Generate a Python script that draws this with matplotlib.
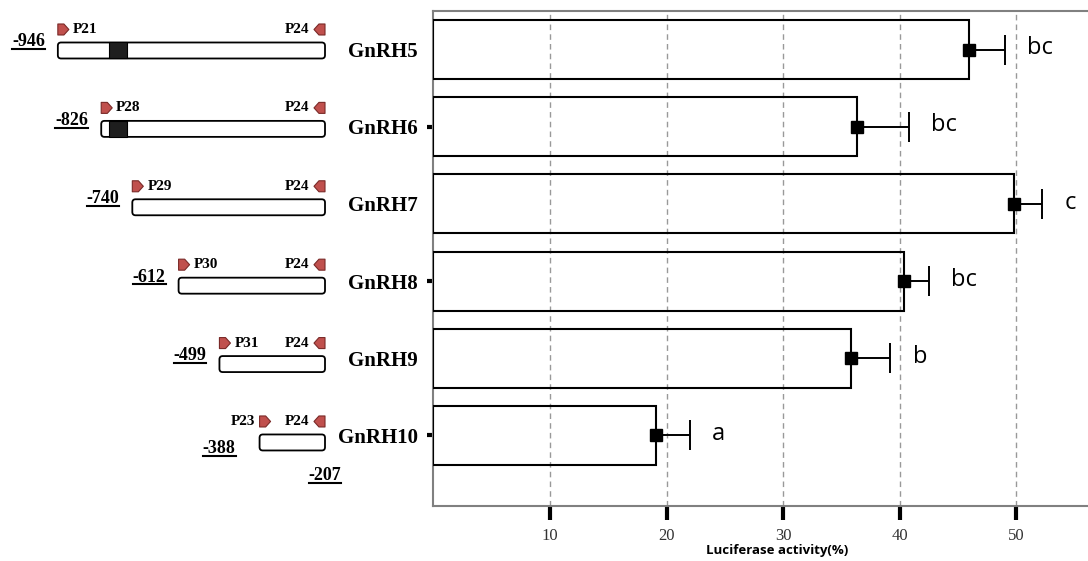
import numpy as np
import matplotlib
matplotlib.use("Agg")
import matplotlib.pyplot as plt
from matplotlib.patches import FancyBboxPatch, Polygon, Rectangle
from matplotlib.lines import Line2D

# promoter deletion constructs and their luciferase activity
constructs = ["GnRH5", "GnRH6", "GnRH7", "GnRH8", "GnRH9", "GnRH10"]
activity = [45.9, 36.35, 49.8, 40.35, 35.8, 19.1]
activity_sd = [3.1, 4.45, 2.4, 2.15, 3.4, 2.9]
groups = ["bc", "bc", "c", "bc", "b", "a"]
xticks = [10, 20, 30, 40, 50]

# 5' deletion map (positions in bp relative to the start site)
starts = [-946, -826, -740, -612, -499, -388]
end_pos = -207
fwd_primers = ["P21", "P28", "P29", "P30", "P31", "P23"]
rev_primer = "P24"
element = (-804, -755)

W, H = 1088, 561
fig = plt.figure(figsize=(W / 100, H / 100), dpi=100)

SERIF = "Liberation Serif"
SANS = "Open Sans"

# ── bar panel ────────────────────────────────────────────────────────────────
ax = fig.add_axes([433.4 / W, (H - 505.7) / H, (1121.3 - 433.4) / W, (505.7 - 11) / H])
y = np.arange(len(constructs))
vals = np.array(activity)
errs = np.array(activity_sd)

ax.barh(y, vals, height=0.765, color="none", edgecolor="black", lw=1.5, zorder=3)
ax.hlines(y, vals, vals + errs, color="black", lw=1.4, zorder=4)
ax.plot(vals + errs, y, ls="none", marker="|", ms=21, mew=1.4, color="black", zorder=4)
ax.plot(vals, y, ls="none", marker="s", ms=8.5, color="black", zorder=5)
for v, e, yi, g in zip(vals, errs, y, groups):
    ax.annotate(g, (v + e, yi), xytext=(16, 1), textcoords="offset points",
                ha="left", va="center", fontsize=17, family=SANS)

ax.set_xlim(0, 59)
ax.set_ylim(5.91, -0.5)
ax.xaxis.grid(True, ls=(0, (4, 3)), color="#999999", lw=1, zorder=1)
ax.set_xticks(xticks)
ax.tick_params(axis="x", length=10, width=3, color="black", pad=6,
               labelsize=12, labelcolor="#333333")
for lab in ax.get_xticklabels():
    lab.set_fontfamily(SERIF)
ax.set_yticks(y)
ax.set_yticklabels(constructs, fontfamily=SERIF, fontweight="bold", fontsize=15)
ax.tick_params(axis="y", length=4, width=3, color="black", pad=7)
for i, t in enumerate(ax.yaxis.get_major_ticks()):
    if i % 2 == 0:
        t.tick1line.set_visible(False)
ax.spines["right"].set_visible(False)
for s in ("top", "left", "bottom"):
    ax.spines[s].set_color("#808080")
    ax.spines[s].set_linewidth(1.5)
ax.set_xlabel("Luciferase activity(%)", family=SANS, fontweight="bold",
              fontsize=9.5, labelpad=0)

# ── deletion map ─────────────────────────────────────────────────────────────
mp = fig.add_axes([0, 0, 434 / W, 1])
mp.set_xlim(-1106, 94.5)
mp.set_ylim(6.512, -0.644)
mp.axis("off")

px_x = 1 / 0.3615      # bp per pixel
px_y = 1 / 78.4        # rows per pixel
box_h = 16 * px_y
aw, ah = 11 * px_x, 11 * px_y
primer_dy = -21 * px_y
red = "#C0504D"


def primer(x_tip_side, yc, forward):
    if forward:
        x0 = x_tip_side
        pts = [(x0, yc - ah / 2), (x0 + 0.55 * aw, yc - ah / 2), (x0 + aw, yc),
               (x0 + 0.55 * aw, yc + ah / 2), (x0, yc + ah / 2)]
    else:
        x1 = x_tip_side
        pts = [(x1, yc - ah / 2), (x1 - 0.55 * aw, yc - ah / 2), (x1 - aw, yc),
               (x1 - 0.55 * aw, yc + ah / 2), (x1, yc + ah / 2)]
    mp.add_patch(Polygon(pts, closed=True, facecolor=red, edgecolor="#7a2a28",
                         lw=0.8, joinstyle="round", zorder=3))


underlined = []
for i, (st, fp) in enumerate(zip(starts, fwd_primers)):
    box = FancyBboxPatch((st, i - box_h / 2), end_pos - st, box_h,
                         boxstyle="round,pad=0,rounding_size=9",
                         mutation_aspect=px_y / px_x,
                         facecolor="white", edgecolor="black", lw=1.3, zorder=2)
    mp.add_patch(box)
    if st <= element[0]:
        mp.add_patch(Rectangle((element[0], i - box_h / 2), element[1] - element[0], box_h,
                               facecolor="#1e1e1e", edgecolor="black", lw=0.8, zorder=3))

    py = i + primer_dy
    primer(st, py, True)
    primer(end_pos, py, False)
    if i == len(starts) - 1:
        mp.text(st - 4 * px_x, py, fp, ha="right", va="center", family=SERIF,
                fontweight="bold", fontsize=11)
    else:
        mp.text(st + aw + 4 * px_x, py, fp, ha="left", va="center", family=SERIF,
                fontweight="bold", fontsize=11)
    mp.text(end_pos - aw - 5 * px_x, py, rev_primer, ha="right", va="center",
            family=SERIF, fontweight="bold", fontsize=11)

    if i == len(starts) - 1:
        lx, ly = st - 24 * px_x, i + 10.5 * px_y
    else:
        lx, ly = st - 13 * px_x, i - 4 * px_y
    underlined.append(mp.text(lx, ly, f"{st}", ha="right", va="baseline", family=SERIF,
                              fontweight="bold", fontsize=13))

underlined.append(mp.text(end_pos, len(starts) - 1 + 37.5 * px_y, f"{end_pos}",
                          ha="center", va="baseline", family=SERIF,
                          fontweight="bold", fontsize=13))

# underline the coordinate labels
fig.canvas.draw()
renderer = fig.canvas.get_renderer()
for t in underlined:
    bb = t.get_window_extent(renderer)
    yl = (bb.y0 + 1.2) / H
    fig.add_artist(Line2D([bb.x0 / W, bb.x1 / W], [yl, yl], transform=fig.transFigure,
                          color="black", lw=1.5))

fig.savefig("out.png", dpi=100)
